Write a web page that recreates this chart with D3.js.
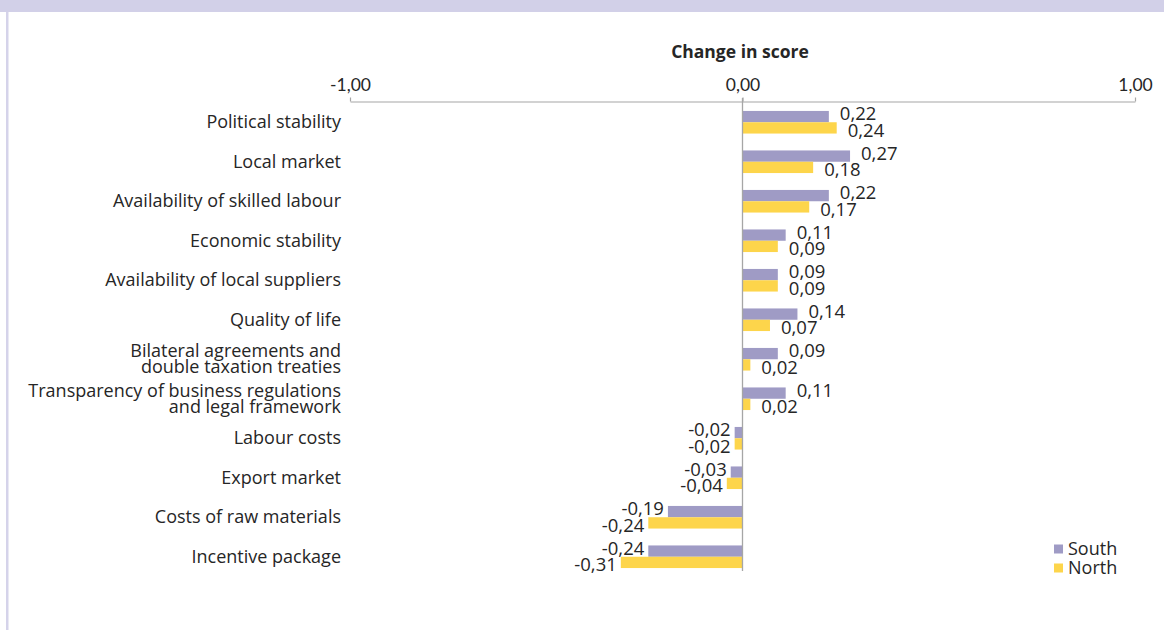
<!DOCTYPE html>
<html><head><meta charset="utf-8">
<script src="https://cdn.jsdelivr.net/npm/d3@7"></script>
<style>body{margin:0;background:#fff;} svg{display:block;font-family:"Open Sans",Lato,sans-serif;}</style>
</head><body>
<svg id="c" width="1164" height="630"></svg>
<script>
const categories = ["Political stability","Local market","Availability of skilled labour","Economic stability","Availability of local suppliers","Quality of life","Bilateral agreements and|double taxation treaties","Transparency of business regulations|and legal framework","Labour costs","Export market","Costs of raw materials","Incentive package"];
const south = [0.22,0.274,0.22,0.11,0.09,0.14,0.09,0.11,-0.02,-0.03,-0.19,-0.24];
const north = [0.24,0.18,0.17,0.09,0.09,0.07,0.02,0.02,-0.02,-0.04,-0.24,-0.31];
const seriesNames = ["South","North"];
const tickValues = [-1,0,1];
const axisTitle = "Change in score";

const colors = {South:"#9f9bc5", North:"#fdd54b"};
const svg = d3.select("#c");
const txt = "#262626";

// frame
svg.append("rect").attr("x",0).attr("y",0).attr("width",1164).attr("height",12).attr("fill","#d2d0e8");
svg.append("rect").attr("x",6).attr("y",12).attr("width",2.5).attr("height",618).attr("fill","#d5d3ea");

const x = d3.scaleLinear().domain([-1,1]).range([350,1135]);
const y = d3.scaleBand().domain(d3.range(categories.length)).range([102,576]);
const fmt = v => d3.format(".2f")(v).replace(".",",").replace("−","-");

// axis
const axisY = 101.5;
const ax = svg.append("g").attr("transform",`translate(0,${axisY})`)
  .call(d3.axisTop(x).tickValues(tickValues).tickSize(4).tickSizeOuter(0).tickFormat(fmt));
ax.select(".domain").attr("stroke","#a6a6a6").attr("stroke-width",1.2);
ax.selectAll(".tick line").attr("stroke","#a6a6a6").attr("stroke-width",1.2);
ax.selectAll(".tick text").attr("fill",txt).attr("font-size",17.5).attr("font-family","Lato, sans-serif").attr("dy",-11).attr("y",0);
svg.append("text").attr("x",740).attr("y",58).attr("text-anchor","middle").attr("font-size",17.5).attr("font-weight","bold").attr("fill",txt).text(axisTitle);

// bars
const bh = 11.3;
const data = [];
categories.forEach((c,i)=>{
  data.push({i, s:"South", v:south[i], off:-bh});
  data.push({i, s:"North", v:north[i], off:0});
});
const mid = i => y(i) + y.bandwidth()/2 + 0.5;
svg.append("g").selectAll("rect").data(data).join("rect")
  .attr("x",d=>x(Math.min(0,d.v))).attr("width",d=>Math.abs(x(d.v)-x(0)))
  .attr("y",d=>mid(d.i)+d.off).attr("height",bh).attr("fill",d=>colors[d.s]);

// zero line
svg.append("line").attr("x1",x(0)).attr("x2",x(0)).attr("y1",98).attr("y2",571).attr("stroke","#a6a6a6").attr("stroke-width",1.3);

// value labels
svg.append("g").selectAll("text").data(data).join("text")
  .attr("x",d=>d.v>=0 ? x(d.v)+11 : x(d.v)-4)
  .attr("y",d=>mid(d.i)+d.off+bh/2 + (d.s==="South"?-3:2))
  .attr("dy","0.36em")
  .attr("text-anchor",d=>d.v>=0?"start":"end")
  .attr("font-size",18.5).attr("fill",txt).text(d=>fmt(Math.round(d.v*100)/100));

// category labels
const cg = svg.append("g");
categories.forEach((c,i)=>{
  const lines = c.split("|");
  const t = cg.append("text").attr("text-anchor","end").attr("fill",txt).attr("font-size",18);
  const lh = 16;
  lines.forEach((l,k)=>{
    t.append("tspan").attr("x",341).attr("y",mid(i) + (k-(lines.length-1)/2)*lh).attr("dy","0.34em").text(l);
  });
});

// legend
const lg = svg.append("g");
seriesNames.forEach((s,k)=>{
  const ly = 549 + k*19;
  lg.append("rect").attr("x",1054).attr("y",ly-4.5).attr("width",9).attr("height",9).attr("fill",colors[s]);
  lg.append("text").attr("x",1068).attr("y",ly).attr("dy","0.36em").attr("font-size",18).attr("fill",txt).text(s);
});
</script>
</body></html>
